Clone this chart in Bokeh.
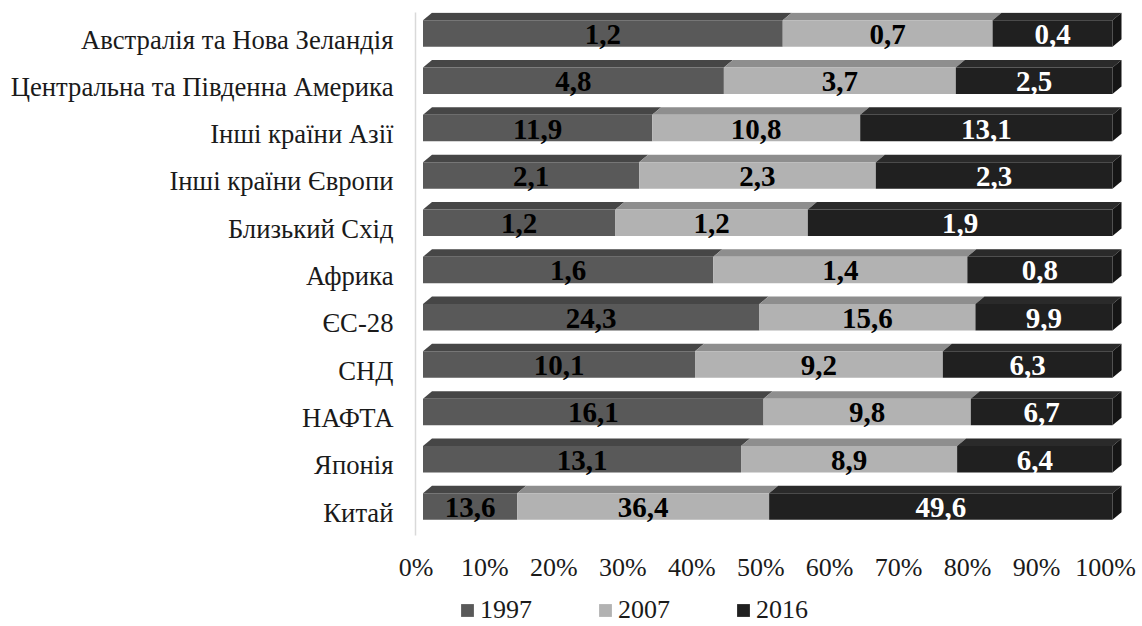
from bokeh.plotting import figure
from bokeh.layouts import column
from bokeh.models import (Range1d, LinearAxis, FixedTicker, Legend, LegendItem,
                          ColumnDataSource, PrintfTickFormatter)
from bokeh.core.properties import value
from bokeh.embed import file_html
from bokeh.resources import INLINE

# ---------------- data ----------------
categories = ["Австралія та Нова Зеландія", "Центральна та Південна Америка",
              "Інші країни Азії", "Інші країни Європи", "Близький Схід", "Африка",
              "ЄС-28", "СНД", "НАФТА", "Японія", "Китай"]
series_names = ["1997", "2007", "2016"]
v1997 = [1.2, 4.8, 11.9, 2.1, 1.2, 1.6, 24.3, 10.1, 16.1, 13.1, 13.6]
v2007 = [0.7, 3.7, 10.8, 2.3, 1.2, 1.4, 15.6, 9.2, 9.8, 8.9, 36.4]
v2016 = [0.4, 2.5, 13.1, 2.3, 1.9, 0.8, 9.9, 6.3, 6.7, 6.4, 49.6]
x_ticks = [0, 10, 20, 30, 40, 50, 60, 70, 80, 90, 100]

# ---------------- style ----------------
front_colors = ["#595959", "#b2b2b2", "#202020"]
top_colors = ["#464646", "#8e8e8e", "#2a2a2a"]
side_color = "#151515"
label_colors = ["#000000", "#000000", "#ffffff"]
FONT = "Liberation Serif"

W = 1142
H_MAIN, H_LEG = 590, 36
PXX = 6.895          # px per percent
PXY = 47.3           # px per row
BAR_H = 26.5 / PXY
DX = 9 / PXX
DY = 7.5 / PXY

x_start, x_end = -7.5 / PXX, 100 + 13 / PXX
y_top, y_bottom = -21 / PXY, -21 / PXY + 523 / PXY
dxl = 7 / PXX
dyl = 6 / PXY

p = figure(width=W, height=H_MAIN, output_backend="svg", toolbar_location=None,
           x_range=Range1d(x_start, x_end), y_range=Range1d(y_bottom, y_top),
           x_axis_location=None, y_axis_location=None,
           min_border_left=415, min_border_right=17, min_border_top=12,
           min_border_bottom=H_MAIN - 535)
p.outline_line_color = None
p.background_fill_color = "white"
p.border_fill_color = "white"
for g in p.grid:
    g.visible = False

p.extra_x_ranges = {"xa": Range1d(x_start + dxl, x_end + dxl)}
p.extra_y_ranges = {"ya": Range1d(y_bottom - dyl, y_top - dyl)}

all_vals = [v1997, v2007, v2016]
n = len(categories)
totals = [sum(all_vals[s][i] for s in range(3)) for i in range(n)]

sources = []
cum = [0.0] * n
for s in range(3):
    left = [cum[i] for i in range(n)]
    right = [cum[i] + all_vals[s][i] / totals[i] * 100 for i in range(n)]
    ys = list(range(n))
    # top faces
    txs, tys = [], []
    for i in range(n):
        yt = i - BAR_H / 2
        txs.append([left[i], right[i], right[i] + DX, left[i] + DX])
        tys.append([yt, yt, yt - DY, yt - DY])
    p.patches(xs=txs, ys=tys, fill_color=top_colors[s], line_color=None)
    src = ColumnDataSource(dict(y=ys, left=left, right=right))
    sources.append(src)
    p.hbar(y="y", left="left", right="right", height=BAR_H, source=src,
           fill_color=front_colors[s], line_color=None)
    lab = ColumnDataSource(dict(
        x=[(left[i] + right[i]) / 2 for i in range(n)],
        y=[i + 0.02 for i in range(n)],
        t=[("%.1f" % all_vals[s][i]).replace(".", ",") for i in range(n)]))
    p.text(x="x", y="y", text="t", source=lab, text_font=value(FONT),
           text_font_style="bold", text_font_size="29px", text_align="center",
           text_baseline="middle", text_color=label_colors[s])
    cum = right

# side faces at the right end
sxs, sys_ = [], []
for i in range(n):
    yt = i - BAR_H / 2
    yb = i + BAR_H / 2
    xe = cum[i]
    sxs.append([xe, xe + DX, xe + DX, xe])
    sys_.append([yt, yt - DY, yb - DY, yb])
p.patches(xs=sxs, ys=sys_, fill_color=side_color, line_color=None)

# axes
xaxis = LinearAxis(x_range_name="xa", ticker=FixedTicker(ticks=x_ticks),
                   formatter=PrintfTickFormatter(format="%d%%"))
xaxis.axis_line_color = None
xaxis.major_tick_line_color = None
xaxis.minor_tick_line_color = None
xaxis.major_tick_out = 0
xaxis.major_label_standoff = 17
xaxis.major_label_text_font = FONT
xaxis.major_label_text_font_size = "26px"
xaxis.major_label_text_color = "#1a1a1a"
p.add_layout(xaxis, "below")

yaxis = LinearAxis(y_range_name="ya", ticker=FixedTicker(ticks=list(range(n))),
                   major_label_overrides={i: c for i, c in enumerate(categories)})
yaxis.axis_line_color = "#d9d9d9"
yaxis.axis_line_width = 1.5
yaxis.major_tick_line_color = None
yaxis.minor_tick_line_color = None
yaxis.major_tick_out = 0
yaxis.major_label_standoff = 22
yaxis.major_label_text_font = FONT
yaxis.major_label_text_font_size = "26.7px"
yaxis.major_label_text_color = "#1a1a1a"
p.add_layout(yaxis, "left")

# ---------------- legend strip (frame aligned with the chart frame) ----------------
q = figure(width=W, height=H_LEG, output_backend="svg", toolbar_location=None,
           x_range=Range1d(x_start, x_end), y_range=Range1d(100, 101),
           x_axis_location=None, y_axis_location=None,
           min_border_left=415, min_border_right=17, min_border_top=0,
           min_border_bottom=0)
q.outline_line_color = None
q.background_fill_color = "white"
q.border_fill_color = "white"
for g in q.grid:
    g.visible = False
leg_renderers = []
for s in range(3):
    # same data, outside this strip's range: only the legend swatches show
    leg_renderers.append(q.hbar(y="y", left="left", right="right", height=BAR_H,
                                source=sources[s], fill_color=front_colors[s],
                                line_color=None))
legend = Legend(items=[LegendItem(label=series_names[s], renderers=[leg_renderers[s]])
                       for s in range(3)],
                orientation="horizontal", location=(44, 1),
                glyph_width=16, glyph_height=16, label_standoff=5, spacing=65,
                label_height=24, padding=0, margin=0, border_line_color=None,
                background_fill_alpha=0, label_text_font=FONT,
                label_text_font_size="26px", label_text_color="#1a1a1a")
q.add_layout(legend, "center")

layout = column(p, q, spacing=0)
open("out.html", "w").write(file_html(layout, INLINE))
